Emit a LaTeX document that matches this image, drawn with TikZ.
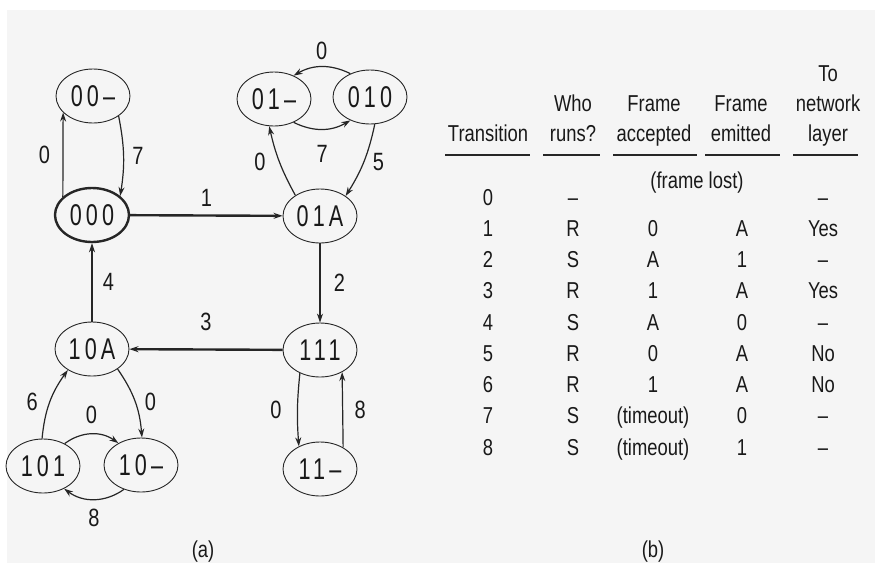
\documentclass[tikz,border=0pt]{standalone}
\usepackage{fontspec}
\setmainfont{Liberation Sans}[FakeStretch=0.8]
\newfontfamily\statefont{Liberation Sans}[FakeStretch=0.72, LetterSpace=14]
\usetikzlibrary{arrows.meta, shapes.geometric}

\tikzset{
  st/.style={draw=black!85, ellipse, minimum width=74pt, minimum height=54pt,
    inner sep=0pt, line width=0.9pt, text=black!90,
    font=\statefont\fontsize{30}{30}\selectfont},
  tr/.style={->, >={Stealth[length=9pt, width=6pt]}, draw=black!85, line width=1.2pt},
  lbl/.style={text=black!90, font=\fontsize{25}{25}\selectfont},
  cell/.style={anchor=base, inner sep=0pt, text=black!90, font=\fontsize{23}{23}\selectfont},
  head/.style={anchor=south, align=center, inner sep=0pt, text depth=0pt,
    text=black!90, font=\fontsize{23}{30}\selectfont},
}

\begin{document}
\begin{tikzpicture}[x=1pt, y=-1pt]
  \useasboundingbox (0,0) rectangle (875,563);
  % Paper
  \fill[black!4] (7,10) rectangle (875,563);

  % States
  \node[st] (n00d) at (93,96) {00\textendash};
  \node[st, line width=2.4pt] (n000) at (92,215) {000};
  \node[st] (n01d) at (274,99) {01\textendash};
  \node[st] (n010) at (370,97) {010};
  \node[st] (n01A) at (320,216) {01A};
  \node[st] (n10A) at (92,349) {10A};
  \node[st] (n111) at (320,350) {111};
  \node[st] (n101) at (43,466) {101};
  \node[st] (n10d) at (141,465) {10\textendash};
  \node[st] (n11d) at (320,469) {11\textendash};

  % Transitions
  \draw[tr] (n000.148) -- node[lbl, left=9pt] {0} (n00d.209);
  \draw[tr] (n00d.322) to[bend left=10] node[lbl, right=5pt] {7} (n000.34);
  \draw[tr, line width=2.4pt] (n000) -- node[lbl, above=4pt] {1} (n01A);
  \draw[tr] (n010.130) to[bend right=28] node[lbl, above=3pt] {0} (n01d.50);
  \draw[tr] (n01d.-50) to[bend right=28] node[lbl, below=12pt] {7} (n010.230);
  \draw[tr] (n01A.140) to[bend left=8] node[lbl, left=10pt] {0} (n01d.260);
  \draw[tr] (n010.280) to[bend left=10] node[lbl, right=5pt] {5} (n01A.38);
  \draw[tr] (n01A) -- node[lbl, right=10pt] {2} (n111);
  \draw[tr, line width=2.4pt] (n111) -- node[lbl, above=14pt] {3} (n10A);
  \draw[tr] (n10A) -- node[lbl, right=7pt] {4} (n000);
  \draw[tr] (n10A.322) to[bend left=15] node[lbl, right=6pt] {0} (n10d.88);
  \draw[tr] (n101.92) to[bend left=15] node[lbl, left=8pt] {6} (n10A.221);
  \draw[tr] (n101.46) to[bend left=36] node[lbl, above=6pt] {0} (n10d.136);
  \draw[tr] (n10d.235) to[bend left=36] node[lbl, below=6pt] {8} (n101.313);
  \draw[tr] (n111.229) to[bend right=5] node[lbl, left=12pt] {0} (n11d.133);
  \draw[tr] (n11d.43) -- node[lbl, right=8pt] {8} (n111.315);

  \node[cell] (capa) at (203,557) {(a)};

  % Table header
  \node[head] (hT) at (488,142) {Transition};
  \node[head] (hW) at (573,142) {Who\\runs?};
  \node[head] (hA) at (654,142) {Frame\\accepted};
  \node[head] (hE) at (741,142) {Frame\\emitted};
  \node[head] (hN) at (828,142) {To\\network\\layer};
  \foreach \a/\b in {445/530, 543/600, 613/697, 705/780, 793/858}
    \draw[black!85, line width=1.2pt] (\a,155) -- (\b,155);

  % Table rows
  \node[cell] (lost) at (697,188) {(frame lost)};
  \foreach \trn/\who/\acc/\emt/\net [count=\k from 0] in {
      0/\textendash/{}/{}/\textendash,
      1/R/0/A/Yes,
      2/S/A/1/\textendash,
      3/R/1/A/Yes,
      4/S/A/0/\textendash,
      5/R/0/A/No,
      6/R/1/A/No,
      7/S/(timeout)/0/\textendash,
      8/S/(timeout)/1/\textendash} {
    \node[cell] (t\k) at (488,{205+31.25*\k}) {\trn};
    \node[cell] (w\k) at (573,{205+31.25*\k}) {\who};
    \node[cell] (a\k) at (653,{205+31.25*\k}) {\acc};
    \node[cell] (e\k) at (742,{205+31.25*\k}) {\emt};
    \node[cell] (l\k) at (823,{205+31.25*\k}) {\net};
  }

  \node[cell] (capb) at (653,557) {(b)};
\end{tikzpicture}
\end{document}
